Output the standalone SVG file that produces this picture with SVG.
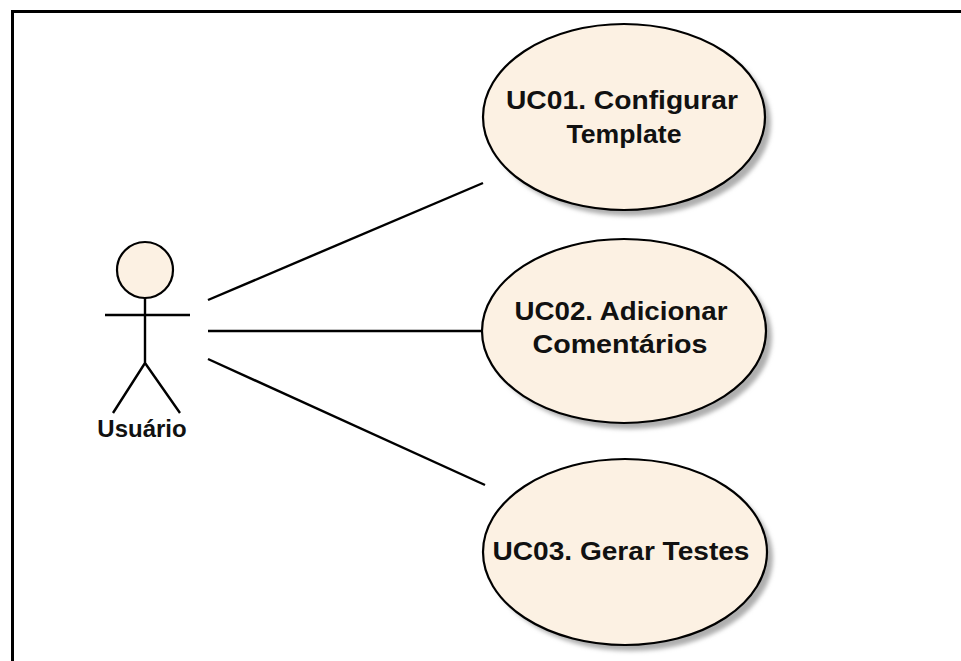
<svg xmlns="http://www.w3.org/2000/svg" width="961" height="661" viewBox="0 0 961 661">
<defs>
<filter id="sh" x="-10%" y="-10%" width="130%" height="130%"><feGaussianBlur stdDeviation="2"/></filter>
</defs>
<style>
.uc{fill:#FCF1E3;stroke:#000;stroke-width:2.2}
.shadow{fill:#AFAFAF;filter:url(#sh)}
.t{font-family:"Liberation Sans",Arial,sans-serif;font-weight:bold;font-size:26px;fill:#111;text-anchor:middle}
.c{stroke:#000;stroke-width:2.4;fill:none}
</style>
<rect width="961" height="661" fill="#FFFFFF"/>
<path d="M12.5,661 V11.5 H961" fill="none" stroke="#000" stroke-width="3"/>
<g id="actor">
<circle cx="145" cy="270" r="28" fill="#FCF1E3" stroke="#000" stroke-width="2.2"/>
<path d="M145,298 V363 M105,315 H190 M113,413 L145,363 L180,413" class="c"/>
<text x="142" y="437" class="t" style="font-size:24px">Usuário</text>
</g>
<g id="connectors">
<line x1="208" y1="300" x2="483" y2="183" class="c"/>
<line x1="208" y1="331" x2="482" y2="331" class="c"/>
<line x1="208" y1="359" x2="485" y2="485" class="c"/>
</g>
<g id="uc01">
<ellipse cx="630" cy="123" rx="141" ry="93" class="shadow"/>
<ellipse cx="624" cy="117" rx="141" ry="93" class="uc"/>
<text x="622" y="109" class="t" textLength="232" lengthAdjust="spacingAndGlyphs">UC01. Configurar</text>
<text x="624" y="143" class="t" textLength="115" lengthAdjust="spacingAndGlyphs">Template</text>
</g>
<g id="uc02">
<ellipse cx="630" cy="337" rx="142" ry="92" class="shadow"/>
<ellipse cx="624" cy="331" rx="142" ry="92" class="uc"/>
<text x="621" y="320" class="t" textLength="213" lengthAdjust="spacingAndGlyphs">UC02. Adicionar</text>
<text x="620" y="353" class="t" textLength="175" lengthAdjust="spacingAndGlyphs">Comentários</text>
</g>
<g id="uc03">
<ellipse cx="631" cy="558" rx="142" ry="93" class="shadow"/>
<ellipse cx="625" cy="552" rx="142" ry="93" class="uc"/>
<text x="621" y="560" class="t" textLength="257" lengthAdjust="spacingAndGlyphs">UC03. Gerar Testes</text>
</g>
</svg>
